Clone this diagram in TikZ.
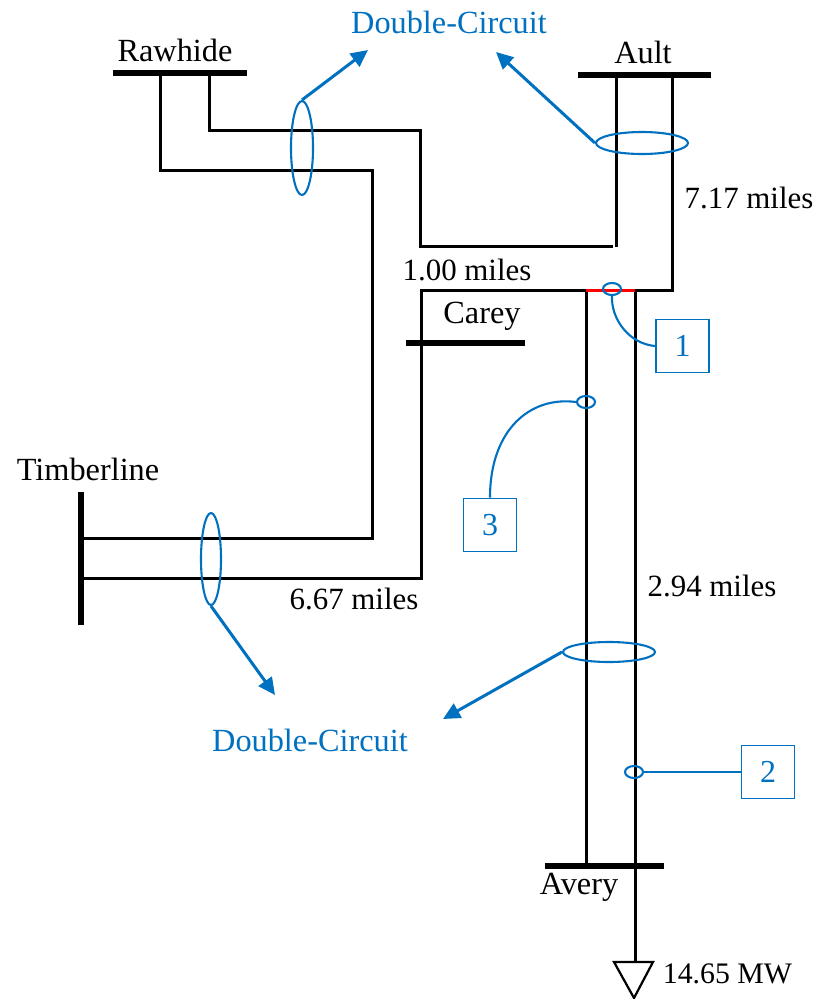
\documentclass[tikz,border=0pt]{standalone}
\usepackage{fontspec}
\setmainfont{Liberation Serif}
\usetikzlibrary{shapes.geometric,arrows.meta}
\definecolor{sblue}{HTML}{0070C0}
\tikzset{
  x=1pt,y=-1pt,
  wire/.style={draw=black,line width=3pt,line join=miter},
  busbar/.style={draw=black,line width=5.6pt},
  lbl/.style={font=\fontsize{32.3}{35}\selectfont,text=black,inner sep=0pt,anchor=center},
  numlbl/.style={lbl,font=\fontsize{30.9}{34}\selectfont},
  loadlbl/.style={lbl,font=\fontsize{29.8}{33}\selectfont},
  bluelbl/.style={lbl,text=sblue},
  ring/.style={ellipse,draw=sblue,line width=2.1pt,inner sep=0pt,fill=none},
  callout/.style={draw=sblue,line width=1.8pt,minimum width=53pt,minimum height=53pt,inner sep=0pt,text=sblue,font=\fontsize{32}{35}\selectfont},
  thin link/.style={draw=sblue,line width=2.1pt},
  pointer/.style={draw=sblue,line width=3pt,-{Triangle[length=17pt,width=16pt]}}
}
\begin{document}
\begin{tikzpicture}
\useasboundingbox (0,0) rectangle (816,999);
% buses
\coordinate (rawL) at (113,73); \coordinate (rawR) at (247,73);
\coordinate (aultL) at (578,75); \coordinate (aultR) at (711,75);
\coordinate (careyL) at (406,343); \coordinate (careyR) at (525,343);
\coordinate (timT) at (81,492); \coordinate (timB) at (81,625);
\coordinate (avL) at (545,866); \coordinate (avR) at (664,866);
% wire points
\coordinate (a1) at (160,73); \coordinate (a2) at (160,170); \coordinate (a3) at (372,170); \coordinate (a4) at (372,538); \coordinate (a5) at (82,538);
\coordinate (b1) at (209,73); \coordinate (b2) at (209,130); \coordinate (b3) at (420,130); \coordinate (b4) at (420,246); \coordinate (b5) at (613,246);
\coordinate (c1) at (616,75); \coordinate (c2) at (616,247);
\coordinate (d1) at (672,75); \coordinate (d2) at (672,290); \coordinate (d3) at (635,290);
\coordinate (e1) at (586,290); \coordinate (e2) at (421,290); \coordinate (e3) at (421,578); \coordinate (e4) at (82,578);
\coordinate (f1) at (586,866); \coordinate (g1) at (635,866); \coordinate (g2) at (635,962);
% wires
\draw[wire] (a1) -- (a2) -- (a3) -- (a4) -- (a5);
\draw[wire] (b1) -- (b2) -- (b3) -- (b4) -- (b5);
\draw[wire] (c1) -- (c2);
\draw[wire] (d1) -- (d2) -- (d3);
\draw[wire] (e1) -- (e2) -- (e3) -- (e4);
\draw[wire] (e1) -- (f1);
\draw[wire] (d3) -- (g1);
\draw[wire] (g1) -- (g2);
\draw[draw=red,line width=3pt] (e1) -- (d3);
% bus bars
\draw[busbar] (rawL) -- (rawR);
\draw[busbar] (aultL) -- (aultR);
\draw[busbar] (careyL) -- (careyR);
\draw[busbar] (timT) -- (timB);
\draw[busbar] (avL) -- (avR);
% load
\coordinate (t1) at (614,962); \coordinate (t2) at (653,962); \coordinate (t3) at (634,998);
\draw[draw=black,line width=2.2pt] (t1) -- (t2) -- (t3) -- cycle;
% rings
\node[ring,minimum width=22pt,minimum height=94pt] (r1) at (302,148) {};
\node[ring,minimum width=92pt,minimum height=22pt] (r2) at (642,143) {};
\node[ring,minimum width=20pt,minimum height=92pt] (r3) at (211,559) {};
\node[ring,minimum width=92pt,minimum height=20pt] (r4) at (609,652) {};
\node[ring,minimum width=18pt,minimum height=12pt] (s1) at (612,289) {};
\node[ring,minimum width=18pt,minimum height=12pt] (s3) at (586,402) {};
\node[ring,minimum width=18pt,minimum height=12pt] (s2) at (634,772) {};
% callouts
\node[callout] (n1) at (682.5,346) {1};
\node[callout] (n3) at (490,525) {3};
\node[callout] (n2) at (768,772) {2};
\draw[thin link] (s1.south) .. controls (611,320) and (630,344) .. (n1.west);
\draw[thin link] (s3.west) .. controls (530,396) and (490,430) .. (n3.north);
\draw[thin link] (s2.east) -- (n2.west);
% labels
\node[lbl] (rawhide) at (175,50) {Rawhide};
\node[lbl] (ault) at (643,52) {Ault};
\node[lbl] (carey) at (482,316) {Carey};
\node[lbl] (timber) at (88,469) {Timberline};
\node[lbl] (avery) at (579,887) {Avery};
\node[numlbl] (m717) at (749,198) {7.17 miles};
\node[numlbl] (m100) at (467,270) {1.00 miles};
\node[numlbl] (m667) at (354,599) {6.67 miles};
\node[numlbl] (m294) at (712,586) {2.94 miles};
\node[loadlbl] (mw) at (727.5,974) {14.65 MW};
\node[bluelbl] (dc1) at (449,22) {Double-Circuit};
\node[bluelbl] (dc2) at (310,740) {Double-Circuit};
% pointers
\coordinate (p1) at (368,50); \coordinate (p2) at (496,52); \coordinate (p3) at (275,695); \coordinate (p4) at (443,719);
\draw[pointer] (r1.north) -- (p1);
\draw[pointer] (r2.west) -- (p2);
\draw[pointer] (r3.south) -- (p3);
\draw[pointer] (r4.west) -- (p4);
\end{tikzpicture}
\end{document}
